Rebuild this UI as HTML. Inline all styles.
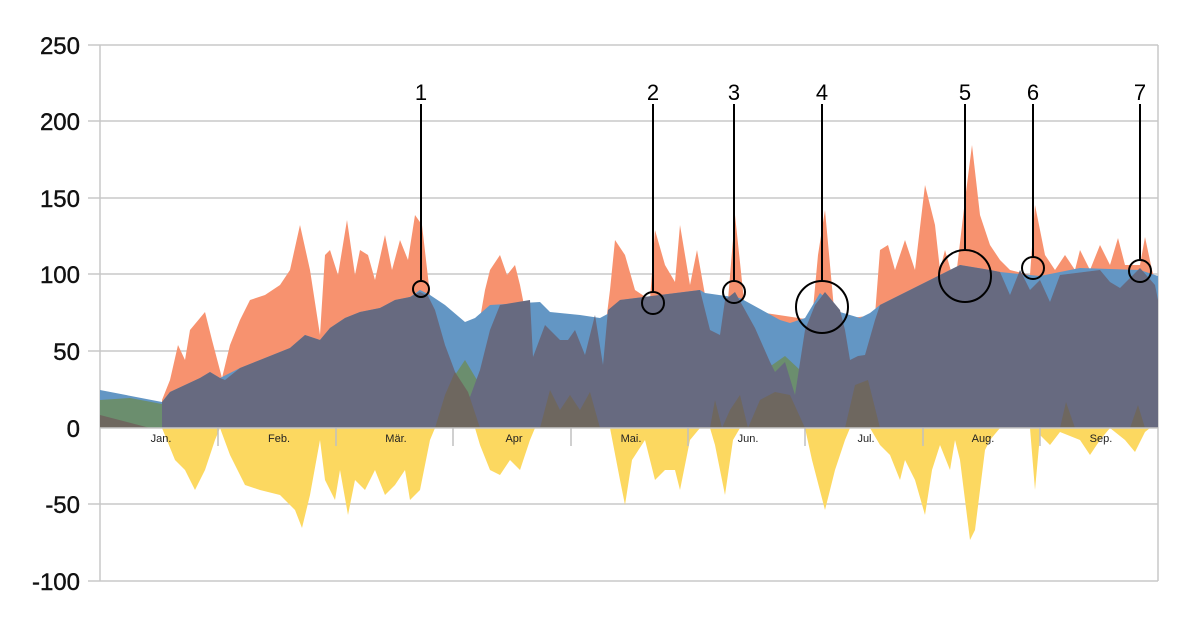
<!DOCTYPE html>
<html><head><meta charset="utf-8"><style>
html,body{margin:0;padding:0;background:#fff;}
svg{display:block;font-family:"Liberation Sans",sans-serif;}
</style></head><body>
<svg width="1200" height="626" viewBox="0 0 1200 626">
<g stroke="#c8c8c8" stroke-width="1.5">
<line x1="88" y1="45" x2="1158" y2="45"/><line x1="88" y1="121" x2="1158" y2="121"/>
<line x1="88" y1="198" x2="1158" y2="198"/><line x1="88" y1="274" x2="1158" y2="274"/>
<line x1="88" y1="351" x2="1158" y2="351"/><line x1="88" y1="504" x2="1158" y2="504"/>
<line x1="88" y1="581" x2="1158" y2="581"/>
<line x1="100" y1="45" x2="100" y2="581"/><line x1="1158" y1="45" x2="1158" y2="581"/>
</g>
<!-- orange -->
<polygon fill="#f7926f" points="162,428 162,400 170,380 178,345 185,360 190,330 200,318 205,312 212,340 222,378 230,345 240,320 250,300 265,295 280,285 290,270 300,225 310,270 320,335 325,255 330,250 338,275 347,220 355,275 360,250 368,255 375,280 385,235 392,270 400,240 408,260 415,215 422,225 430,295 440,320 478,330 485,290 490,270 500,255 507,275 515,265 520,285 525,310 605,330 610,290 615,240 625,255 635,290 650,300 655,230 665,265 675,282 680,225 690,285 697,250 705,295 728,300 735,215 745,310 812,320 818,255 825,210 835,320 875,315 880,250 888,245 895,270 905,240 915,270 925,185 935,225 940,270 945,250 955,285 965,200 972,145 980,215 990,245 1000,260 1010,270 1030,275 1035,205 1045,255 1055,270 1065,255 1075,270 1080,250 1090,270 1100,245 1110,265 1118,238 1125,265 1140,265 1145,237 1152,270 1158,290 1158,428"/>
<!-- blue -->
<polygon fill="#6396c4" points="100,428 100,390 162,402 170,392 200,378 210,372 220,378 240,368 260,360 290,348 305,335 320,340 330,328 345,318 360,312 380,308 395,300 410,297 420,290 430,295 445,305 465,322 475,318 490,305 540,302 550,312 580,315 600,318 615,310 620,300 700,290 705,293 740,298 780,320 790,323 805,318 820,293 840,312 860,318 870,313 880,305 920,285 960,265 990,270 1000,272 1040,276 1080,268 1140,270 1158,276 1158,428"/>
<!-- green -->
<polygon fill="#6b8e6e" points="100,428 100,400 130,398 162,404 162,428"/>
<polygon fill="#6b8e6e" points="430,428 445,390 465,360 480,385 490,428"/>
<polygon fill="#6b8e6e" points="750,428 765,370 785,356 800,370 808,428"/>
<!-- dark -->
<polygon fill="#676a80" points="162,428 162,402 170,392 200,378 210,372 220,378 225,380 240,368 260,360 290,348 305,335 320,340 330,328 345,318 360,312 380,308 395,300 410,297 420,292 428,296 435,310 445,345 460,385 470,397 480,370 490,330 500,305 530,300 533,357 545,325 560,340 568,340 575,330 585,355 595,315 603,365 608,310 620,300 700,290 710,330 720,335 725,300 735,292 745,310 755,328 770,362 775,372 785,362 795,395 805,330 815,305 825,292 840,310 845,330 850,360 858,356 865,355 875,320 880,305 920,285 960,265 990,270 1000,272 1010,295 1020,270 1030,290 1040,280 1050,302 1060,275 1100,270 1110,282 1120,288 1140,268 1155,285 1158,300 1158,428"/>
<!-- brown -->
<g fill="#6e675f">
<polygon points="100,428 100,415 150,428"/>
<polygon points="435,428 445,395 455,372 468,392 480,428"/>
<polygon points="540,428 550,390 560,410 570,395 580,410 590,392 600,428"/>
<polygon points="710,428 715,400 722,428 730,410 740,395 748,428 760,400 775,392 790,395 805,428"/>
<polygon points="845,428 855,385 868,380 880,428"/>
<polygon points="1060,428 1066,402 1075,428"/>
<polygon points="1130,428 1138,405 1145,428"/>
</g>
<!-- yellow -->
<polygon fill="#fcd860" points="162,428 175,460 185,470 195,490 205,470 215,440 220,428 230,455 245,485 260,490 280,495 295,510 302,528 310,495 320,440 325,480 335,500 340,470 348,515 355,480 365,490 375,470 385,495 395,485 405,470 410,500 420,490 430,440 435,428 475,428 480,445 490,470 500,475 510,460 520,470 530,440 535,428 610,428 620,480 625,505 632,460 645,440 655,480 665,470 675,470 680,490 690,440 700,428 710,428 715,445 725,495 733,440 740,428 805,428 812,460 825,510 835,470 845,440 850,428 870,428 880,445 890,455 900,480 905,460 915,480 925,515 932,470 940,445 950,470 955,440 960,460 970,540 975,530 985,450 990,440 1000,428 1030,428 1035,490 1040,435 1050,445 1060,432 1080,440 1090,455 1100,440 1110,428 1125,440 1135,452 1145,432 1150,428"/>
<line x1="100" y1="428" x2="1158" y2="428" stroke="#c8c8c8" stroke-width="1.5"/>
<g stroke="#c0c0c0" stroke-width="1.5">
<line x1="218" y1="428" x2="218" y2="446"/><line x1="336" y1="428" x2="336" y2="446"/><line x1="453" y1="428" x2="453" y2="446"/><line x1="571" y1="428" x2="571" y2="446"/><line x1="688" y1="428" x2="688" y2="446"/><line x1="805" y1="428" x2="805" y2="446"/><line x1="923" y1="428" x2="923" y2="446"/><line x1="1040" y1="428" x2="1040" y2="446"/>
</g>
<g font-size="11" fill="#222" text-anchor="middle">
<text x="161" y="442">Jan.</text><text x="279" y="442">Feb.</text><text x="396" y="442">Mär.</text><text x="514" y="442">Apr</text><text x="631" y="442">Mai.</text><text x="748" y="442">Jun.</text><text x="866" y="442">Jul.</text><text x="983" y="442">Aug.</text><text x="1101" y="442">Sep.</text>
</g>
<g font-size="24" fill="#111" text-anchor="end" stroke="#111" stroke-width="0.4">
<text x="80" y="54">250</text><text x="80" y="130">200</text><text x="80" y="207">150</text><text x="80" y="283">100</text><text x="80" y="360">50</text><text x="80" y="437">0</text><text x="80" y="513">-50</text><text x="80" y="590">-100</text>
</g>
<g stroke="#000" stroke-width="2" fill="none">
<line x1="421" y1="104" x2="421" y2="281"/><circle cx="421" cy="289" r="8"/>
<line x1="653" y1="104" x2="653" y2="292"/><circle cx="653" cy="303" r="11"/>
<line x1="734" y1="104" x2="734" y2="281"/><circle cx="734" cy="292" r="11"/>
<line x1="822" y1="104" x2="822" y2="281"/><circle cx="822" cy="307" r="26"/>
<line x1="965" y1="104" x2="965" y2="250"/><circle cx="965" cy="276" r="26"/>
<line x1="1033" y1="104" x2="1033" y2="257"/><circle cx="1033" cy="268" r="11"/>
<line x1="1140" y1="104" x2="1140" y2="260"/><circle cx="1140" cy="271" r="11"/>
</g>
<g font-size="22" fill="#000" text-anchor="middle">
<text x="421" y="100">1</text><text x="653" y="100">2</text><text x="734" y="100">3</text><text x="822" y="100">4</text><text x="965" y="100">5</text><text x="1033" y="100">6</text><text x="1140" y="100">7</text>
</g>
</svg>
</body></html>
